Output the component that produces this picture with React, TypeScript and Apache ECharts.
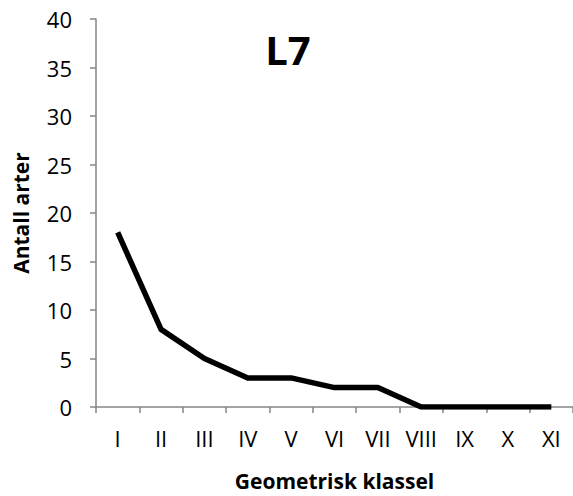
import React, { useEffect, useRef } from "react";
import * as echarts from "echarts";

const categories = ["I", "II", "III", "IV", "V", "VI", "VII", "VIII", "IX", "X", "XI"];
const values = [18, 8, 5, 3, 3, 2, 2, 0, 0, 0, 0];
const title = "L7";
const xName = "Geometrisk klassel";
const yName = "Antall arter";

const FONT = "'Open Sans', 'Noto Sans', sans-serif";

export default function App() {
  const ref = useRef<HTMLDivElement>(null);
  useEffect(() => {
    if (!ref.current) return;
    const chart = echarts.init(ref.current, null, { renderer: "svg" });
    chart.setOption({
      animation: false,
      backgroundColor: "#ffffff",
      title: {
        text: title,
        left: 283,
        top: 24,
        textAlign: "center",
        textStyle: { fontFamily: FONT, fontWeight: "bold", fontSize: 40, color: "#000" },
      },
      grid: { left: 96, right: 0, top: 19, bottom: 89, containLabel: false },
      xAxis: {
        type: "category",
        data: categories,
        boundaryGap: true,
        name: xName,
        nameLocation: "middle",
        nameGap: 63,
        nameTextStyle: { fontFamily: FONT, fontWeight: "bold", fontSize: 21, color: "#000" },
        axisLine: { lineStyle: { color: "#868686", width: 1.5 } },
        axisTick: { show: true, length: 6, alignWithLabel: false, lineStyle: { color: "#868686", width: 1.5 } },
        axisLabel: { fontFamily: FONT, fontSize: 22, color: "#000", margin: 20 },
        splitLine: { show: false },
      },
      yAxis: {
        type: "value",
        min: 0,
        max: 40,
        interval: 5,
        name: yName,
        nameLocation: "middle",
        nameGap: 65,
        nameTextStyle: { fontFamily: FONT, fontWeight: "bold", fontSize: 21, color: "#000" },
        axisLine: { show: true, lineStyle: { color: "#868686", width: 1.5 } },
        axisTick: { show: true, length: 6, lineStyle: { color: "#868686", width: 1.5 } },
        axisLabel: { fontFamily: FONT, fontSize: 22, color: "#000", margin: 24 },
        splitLine: { show: false },
      },
      series: [
        {
          type: "line",
          data: values,
          symbol: "none",
          lineStyle: { color: "#000", width: 5.5, join: "round" },
        },
      ],
    });
    return () => chart.dispose();
  }, []);
  return (
    <div
      ref={ref}
      style={{ position: "absolute", left: 0, top: 0, width: 573, height: 496 }}
    />
  );
}
